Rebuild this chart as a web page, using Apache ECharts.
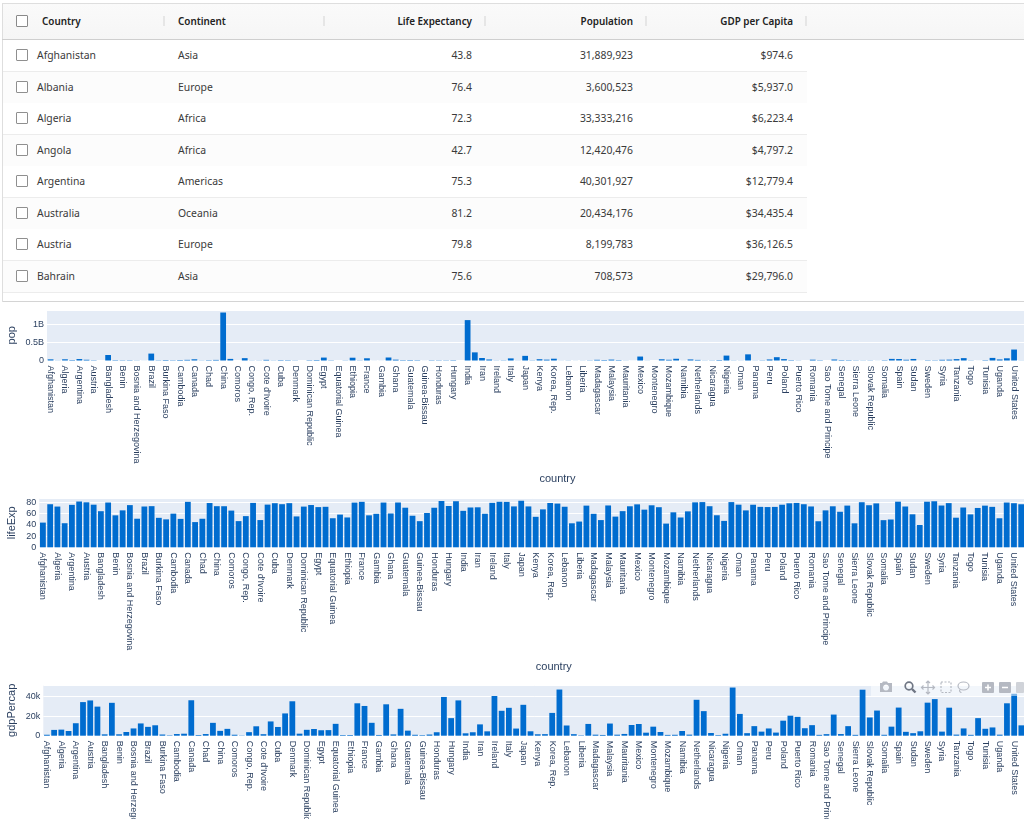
<!DOCTYPE html>
<html><head><meta charset="utf-8">
<script src="https://cdn.jsdelivr.net/npm/echarts@6/dist/echarts.min.js"></script>
<style>
html,body{margin:0;padding:0;background:#fff;width:1024px;height:819px;overflow:hidden}
#chart{position:absolute;left:0;top:0;width:1024px;height:819px}
#table{position:absolute;left:0;top:0;width:1024px;height:303px;font-family:"Noto Sans",sans-serif;font-size:10.4px;color:#3a3a3a}
#table div{position:absolute;box-sizing:border-box}
#table .t{white-space:nowrap;line-height:14px}
#modebar{position:absolute;left:871px;top:679px;width:153px;height:17px;background:rgba(255,255,255,.5)}
</style></head><body>
<div id="chart"></div>
<div id="table"></div>
<svg id="modebar" viewBox="871 679 153 17">
 <g fill="#b5b9c2" stroke="none">
  <path d="M880 683h2l1-1.5h4l1 1.5h4v9h-12z M886 684.5a3 3 0 1 0 .01 0z" fill-rule="evenodd"/>
  <rect x="982" y="682" width="12" height="11" rx="1"/><rect x="999" y="682" width="12" height="11" rx="1"/>
  <rect x="1016" y="682" width="8" height="11" rx="1" fill="#d0d3d9"/>
 </g>
 <g fill="none" stroke="#fff" stroke-width="1.6"><path d="M985 687.5h6M988 684.5v6M1002 687.5h6"/></g>
 <g fill="none" stroke="#6f7684" stroke-width="1.7"><circle cx="909" cy="686" r="3.8"/><path d="M912 689l3.5 3.5" stroke-width="2.4"/></g>
 <g fill="none" stroke="#b5b9c2" stroke-width="1.2">
  <path d="M928 681v13M921.500 687.500h13M926 683l2-2 2 2M926 692l2 2 2-2M923.500 685.500l-2 2 2 2M932.500 685.500l2 2-2 2"/>
  <rect x="941" y="682" width="10" height="10.500" stroke-dasharray="2 1.500"/>
  <ellipse cx="963.500" cy="686" rx="5.500" ry="4"/><path d="M960 689.500c-1 1.500 0 3 1.500 3"/>
 </g>
</svg>
<script>
var countries=["Afghanistan","Albania","Algeria","Angola","Argentina","Australia","Austria","Bahrain","Bangladesh","Belgium","Benin","Bolivia","Bosnia and Herzegovina","Botswana","Brazil","Bulgaria","Burkina Faso","Burundi","Cambodia","Cameroon","Canada","Central African Republic","Chad","Chile","China","Colombia","Comoros","Congo, Dem. Rep.","Congo, Rep.","Costa Rica","Cote d'Ivoire","Croatia","Cuba","Czech Republic","Denmark","Djibouti","Dominican Republic","Ecuador","Egypt","El Salvador","Equatorial Guinea","Eritrea","Ethiopia","Finland","France","Gabon","Gambia","Germany","Ghana","Greece","Guatemala","Guinea","Guinea-Bissau","Haiti","Honduras","Hong Kong, China","Hungary","Iceland","India","Indonesia","Iran","Iraq","Ireland","Israel","Italy","Jamaica","Japan","Jordan","Kenya","Korea, Dem. Rep.","Korea, Rep.","Kuwait","Lebanon","Lesotho","Liberia","Libya","Madagascar","Malawi","Malaysia","Mali","Mauritania","Mauritius","Mexico","Mongolia","Montenegro","Morocco","Mozambique","Myanmar","Namibia","Nepal","Netherlands","New Zealand","Nicaragua","Niger","Nigeria","Norway","Oman","Pakistan","Panama","Paraguay","Peru","Philippines","Poland","Portugal","Puerto Rico","Reunion","Romania","Rwanda","Sao Tome and Principe","Saudi Arabia","Senegal","Serbia","Sierra Leone","Singapore","Slovak Republic","Slovenia","Somalia","South Africa","Spain","Sri Lanka","Sudan","Swaziland","Sweden","Switzerland","Syria","Taiwan","Tanzania","Thailand","Togo","Trinidad and Tobago","Tunisia","Turkey","Uganda","United Kingdom","United States","Uruguay","Venezuela","Vietnam","West Bank and Gaza","Yemen, Rep.","Zambia","Zimbabwe"];
var pop=[31889923,3600523,33333216,12420476,40301927,20434176,8199783,708573,150448339,10392226,8078314,9119152,4552198,1639131,190010647,7322858,14326203,8390505,14131858,17696293,33390141,4369038,10238807,16284741,1318683096,44227550,710960,64606759,3800610,4133884,18013409,4493312,11416987,10228744,5468120,496374,9319622,13755680,80264543,6939688,551201,4906585,76511887,5238460,61083916,1454867,1688359,82400996,22873338,10706290,12572928,9947814,1472041,8502814,7483763,6980412,9956108,301931,1110396331,223547000,69453570,27499638,4109086,6426679,58147733,2780132,127467972,6053193,35610177,23301725,49044790,2505559,3921278,2012649,3193942,6036914,19167654,13327079,24821286,12031795,3270065,1250882,108700891,2874127,684736,33757175,19951656,47761980,2055080,28901790,16570613,4115771,5675356,12894865,135031164,4627926,3204897,169270617,3242173,6667147,28674757,91077287,38518241,10642836,3942491,798094,22276056,8860588,199579,27601038,12267493,10150265,6144562,4553009,5447502,2009245,9118773,43997828,40448191,20378239,42292929,1133066,9031088,7554661,19314747,23174294,38139640,65068149,5701579,1056608,10276158,71158647,29170398,60776238,301139947,3447496,26084662,85262356,4018332,22211743,11746035,12311143];
var lifeExp=[43.828,76.423,72.301,42.731,75.32,81.235,79.829,75.635,64.062,79.441,56.728,65.554,74.852,50.728,72.39,73.005,52.295,49.58,59.723,50.43,80.653,44.741,50.651,78.553,72.961,72.889,65.152,46.462,55.322,78.782,48.328,75.748,78.273,76.486,78.332,54.791,72.235,74.994,71.338,71.878,51.579,58.04,52.947,79.313,80.657,56.735,59.448,79.406,60.022,79.483,70.259,56.007,46.388,60.916,70.198,82.208,73.338,81.757,64.698,70.65,70.964,59.545,78.885,80.745,80.546,72.567,82.603,72.535,54.11,67.297,78.623,77.588,71.993,42.592,45.678,73.952,59.443,48.303,74.241,54.467,64.164,72.801,76.195,66.803,74.543,71.164,42.082,62.069,52.906,63.785,79.762,80.204,72.899,56.867,46.859,80.196,75.64,65.483,75.537,71.752,71.421,71.688,75.563,78.098,78.746,76.442,72.476,46.242,65.528,72.777,63.062,74.002,42.568,79.972,74.663,77.926,48.159,49.339,80.941,72.396,58.556,39.613,80.884,81.701,74.143,78.4,52.517,70.616,58.42,69.819,73.923,71.777,51.542,79.425,78.242,76.384,73.747,74.249,73.422,62.698,42.384,43.487];
var gdpPercap=[974.58,5937.03,6223.37,4797.23,12779.38,34435.37,36126.49,29796.048,1391.25,33692.6,1441.28,3822.14,7446.3,12569.85,9065.8,10680.79,1217.03,430.07,1713.78,2042.1,36319.24,706.02,1704.06,13171.64,4959.11,7006.58,986.15,277.55,3632.56,9645.06,1544.75,14619.22,8948.1,22833.31,35278.42,2082.48,6025.37,6873.26,5581.18,5728.35,12154.09,641.37,690.81,33207.08,30470.02,13206.48,752.75,32170.37,1327.6,27538.41,5186.05,942.65,579.23,1201.64,3548.33,39724.98,18008.94,36180.79,2452.21,3540.65,11605.71,4471.06,40675.99,25523.28,28569.72,7320.88,31656.07,4519.46,1463.25,1593.07,23348.14,47306.99,10461.06,1569.33,414.51,12057.5,1044.77,759.35,12451.66,1042.58,1803.15,10956.99,11977.57,3095.77,9253.9,3820.18,823.69,944,4811.06,1091.36,36797.93,25185.01,2749.32,619.68,2013.98,49357.19,22316.19,2605.95,9809.19,4172.84,7408.91,3190.48,15389.92,20509.65,19328.71,7670.12,10808.48,863.09,1598.44,21654.83,1712.47,9786.53,862.54,47143.18,18678.31,25768.26,926.14,9269.66,28821.06,3970.1,2602.39,4513.48,33859.75,37506.42,4184.55,28718.28,1107.48,7458.4,882.97,18008.51,7092.92,8458.28,1056.38,33203.26,42951.65,10611.46,11415.8,2441.58,3025.35,2280.77,1271.21,469.71];
var continents=["Asia","Europe","Africa","Africa","Americas","Oceania","Europe","Asia"];
var tableHeaders=["Country","Continent","Life Expectancy","Population","GDP per Capita"];

/* table */
var tb=document.getElementById('table'),html='';
function box(l,t,w,h,s){html+='<div style="left:'+l+'px;top:'+t+'px;width:'+w+'px;height:'+h+'px;'+s+'"></div>';}
function txt(s,l,r,cy,extra){html+='<div class="t" style="top:'+(cy-7)+'px;'+(r!=null?'right:'+(1024-r)+'px;':'left:'+l+'px;')+extra+'">'+s+'</div>';}
box(3,4,1021,35,'background:linear-gradient(#fafafa,#f6f6f6)');
box(2,3,1022,1,'background:#dedede');
box(2,3,1,299,'background:#dedede');
box(2,39,1022,1,'background:#cfcfcf');
box(3,301,1021,1,'background:#d4d4d4');
[164,324,485,646,806].forEach(function(x){box(x-1,16,2,10,'background:#e6e6e6');});
var hx=[[42,null],[178,null],[null,472],[null,633],[null,793]];
tableHeaders.forEach(function(h,i){txt(h,hx[i][0],hx[i][1],20.5,'font-weight:600;color:#222;font-size:9.9px;');});
box(16,15,12,12,'background:#fff;border:1px solid #8a8a8a;border-radius:1px');
continents.forEach(function(c,i){
  var top=40+i*31.5,cy=top+15.3;
  box(3,Math.round(top),804,31,'background:'+(i%2?'#fcfcfc':'#fff'));
  box(3,Math.round(top+31),804,1,'background:#ececec');
  box(16,Math.round(cy-6),12,12,'background:#fff;border:1px solid #8f8f8f;border-radius:1px');
  txt(countries[i],37,null,cy,'');
  txt(c,178,null,cy,'');
  txt(lifeExp[i].toFixed(1),null,472,cy,'');
  txt(pop[i].toLocaleString('en-US'),null,633,cy,'');
  txt('$'+Number(gdpPercap[i].toFixed(1)).toLocaleString('en-US',{minimumFractionDigits:1,maximumFractionDigits:1}),null,793,cy,'');
});
tb.innerHTML=html;

/* charts */
var font='Liberation Sans',ink='#2a3f5f';
var panels=[
 {name:'pop',data:pop,left:47,top:310,w:1021,h:50.5,max:Math.max.apply(null,pop)*1.0526,interval:5e8,gap:30,xgap:113,fmt:function(v){return v===0?'0':(v/1e9)+'B';}},
 {name:'lifeExp',data:lifeExp,left:39.3,top:498.3,w:1029,h:49,max:Math.max.apply(null,lifeExp)*1.0526,interval:20,gap:22,xgap:114,fmt:function(v){return v;}},
 {name:'gdpPercap',data:gdpPercap,left:43.3,top:685,w:1025,h:50.7,max:Math.max.apply(null,gdpPercap)*1.0526,interval:20000,gap:26,xgap:113,fmt:function(v){return v===0?'0':(v/1000)+'k';}}
];
var option={animation:false,grid:[],xAxis:[],yAxis:[],series:[]};
panels.forEach(function(p,i){
  option.grid.push({left:p.left,top:p.top,width:p.w,height:p.h,show:true,backgroundColor:'#e5ecf6',borderWidth:0,containLabel:false,outerBoundsMode:'none'});
  option.xAxis.push({type:'category',gridIndex:i,data:countries,name:'country',nameLocation:'middle',nameGap:p.xgap,nameMoveOverlap:false,
    nameTextStyle:{fontFamily:font,fontSize:11,color:ink},
    axisTick:{show:false},axisLine:{show:true,lineStyle:{color:'#fff',width:1}},splitLine:{show:false},
    axisLabel:{interval:1,rotate:-90,margin:5,fontFamily:font,fontSize:9,color:ink,hideOverlap:false,padding:[4,0,0,0]}});
  option.yAxis.push({type:'value',gridIndex:i,min:0,max:p.max,interval:p.interval,name:p.name,nameLocation:'middle',nameRotate:90,nameGap:p.gap,nameMoveOverlap:false,
    nameTextStyle:{fontFamily:font,fontSize:11,color:ink},
    axisLine:{show:false},axisTick:{show:false},splitLine:{lineStyle:{color:'#fff',width:1}},
    axisLabel:{margin:3,fontFamily:font,fontSize:9,color:ink,showMaxLabel:false,formatter:p.fmt}});
  option.series.push({type:'bar',xAxisIndex:i,yAxisIndex:i,data:p.data,barCategoryGap:'20%',itemStyle:{color:'#006ccf'},silent:true});
});
echarts.init(document.getElementById('chart'),null,{renderer:'canvas'}).setOption(option);
</script>
</body></html>
